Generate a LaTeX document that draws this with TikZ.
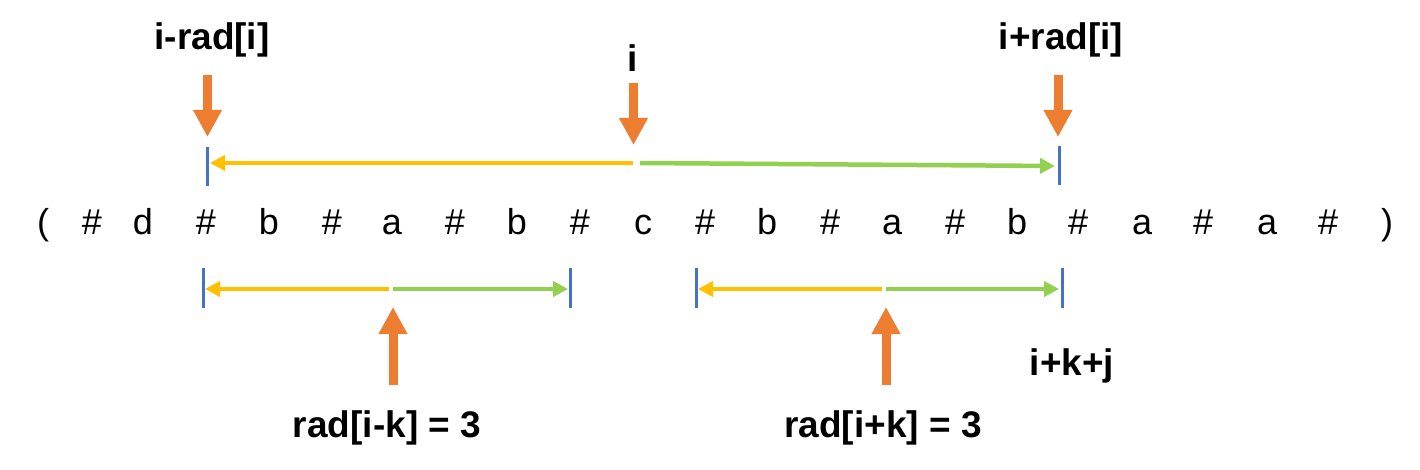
\documentclass[tikz,border=0pt]{standalone}
\usepackage{fontspec}
\setmainfont{Liberation Sans}
\usetikzlibrary{arrows.meta}
\definecolor{orng}{HTML}{ED7D31}
\definecolor{yel}{HTML}{FFC000}
\definecolor{grn}{HTML}{92D050}
\definecolor{blu}{HTML}{4472C4}
\tikzset{
  chr/.style={anchor=base, inner sep=0pt, font=\fontsize{36}{40}\selectfont},
  lbl/.style={anchor=base, inner sep=0pt, font=\fontsize{37}{41}\selectfont\bfseries},
  pointer/.style={orng, line width=9pt, -{Triangle[width=27pt,length=27pt]}},
  tick/.style={blu, line width=3pt},
  leftarr/.style={yel, line width=4.5pt, -{Triangle[width=15pt,length=15pt]}},
  rightarr/.style={grn, line width=4.5pt, -{Triangle[width=15pt,length=15pt]}}
}
\begin{document}
\begin{tikzpicture}[x=1pt,y=-1pt]
\useasboundingbox[fill=white] (0,0) rectangle (1420,470);
% characters
\node[chr] (c0)  at (43,234)   {(};
\node[chr] (c1)  at (92,234)   {\#};
\node[chr] (c2)  at (143,234)  {d};
\node[chr] (c3)  at (206,234)  {\#};
\node[chr] (c4)  at (269,234)  {b};
\node[chr] (c5)  at (332,234)  {\#};
\node[chr] (c6)  at (392,234)  {a};
\node[chr] (c7)  at (455,234)  {\#};
\node[chr] (c8)  at (517,234)  {b};
\node[chr] (c9)  at (580,234)  {\#};
\node[chr] (c10) at (643,234)  {c};
\node[chr] (c11) at (705,234)  {\#};
\node[chr] (c12) at (767,234)  {b};
\node[chr] (c13) at (830,234)  {\#};
\node[chr] (c14) at (892,234)  {a};
\node[chr] (c15) at (955,234)  {\#};
\node[chr] (c16) at (1017,234) {b};
\node[chr] (c17) at (1078,234) {\#};
\node[chr] (c18) at (1142,234) {a};
\node[chr] (c19) at (1203,234) {\#};
\node[chr] (c20) at (1267,234) {a};
\node[chr] (c21) at (1328,234) {\#};
\node[chr] (c22) at (1387,234) {)};
% labels
\node[lbl] (L1) at (212,50)  {i-rad[i]};
\node[lbl] (L2) at (633,72)  {i};
\node[lbl] (L3) at (1061,50) {i+rad[i]};
\node[lbl] (L4) at (387,437) {rad[i-k] = 3};
\node[lbl] (L5) at (883,437) {rad[i+k] = 3};
\node[lbl] (L6) at (1072,375) {i+k+j};
% coordinates
\coordinate (p1s) at (207.5,75);  \coordinate (p1e) at (207.5,137);
\coordinate (p2s) at (633.5,83);  \coordinate (p2e) at (633.5,145);
\coordinate (p3s) at (1058,75);   \coordinate (p3e) at (1058,137);
\coordinate (p4s) at (393,385);   \coordinate (p4e) at (393,307);
\coordinate (p5s) at (886,385);   \coordinate (p5e) at (886,307);
\coordinate (t1a) at (207,147);  \coordinate (t1b) at (207,186);
\coordinate (t2a) at (1059,146); \coordinate (t2b) at (1059,185);
\coordinate (t3a) at (203,268);  \coordinate (t3b) at (203,308);
\coordinate (t4a) at (570,268);  \coordinate (t4b) at (570,308);
\coordinate (t5a) at (696,268);  \coordinate (t5b) at (696,308);
\coordinate (t6a) at (1062,268); \coordinate (t6b) at (1062,308);
\coordinate (y1s) at (633,163);  \coordinate (y1e) at (210,163);
\coordinate (g1s) at (640,163);  \coordinate (g1e) at (1055,166);
\coordinate (y2s) at (389,289);  \coordinate (y2e) at (205,289);
\coordinate (g2s) at (393,289);  \coordinate (g2e) at (568,289);
\coordinate (y3s) at (882,289);  \coordinate (y3e) at (698,289);
\coordinate (g3s) at (886,289);  \coordinate (g3e) at (1059,289);
% ticks
\foreach \k in {1,...,6} \draw[tick] (t\k a) -- (t\k b);
% span arrows
\draw[leftarr]  (y1s) -- (y1e);
\draw[rightarr] (g1s) -- (g1e);
\draw[leftarr]  (y2s) -- (y2e);
\draw[rightarr] (g2s) -- (g2e);
\draw[leftarr]  (y3s) -- (y3e);
\draw[rightarr] (g3s) -- (g3e);
% orange pointers
\draw[pointer] (p1s) -- (p1e);
\draw[pointer] (p2s) -- (p2e);
\draw[pointer] (p3s) -- (p3e);
\draw[pointer] (p4s) -- (p4e);
\draw[pointer] (p5s) -- (p5e);
\end{tikzpicture}
\end{document}
